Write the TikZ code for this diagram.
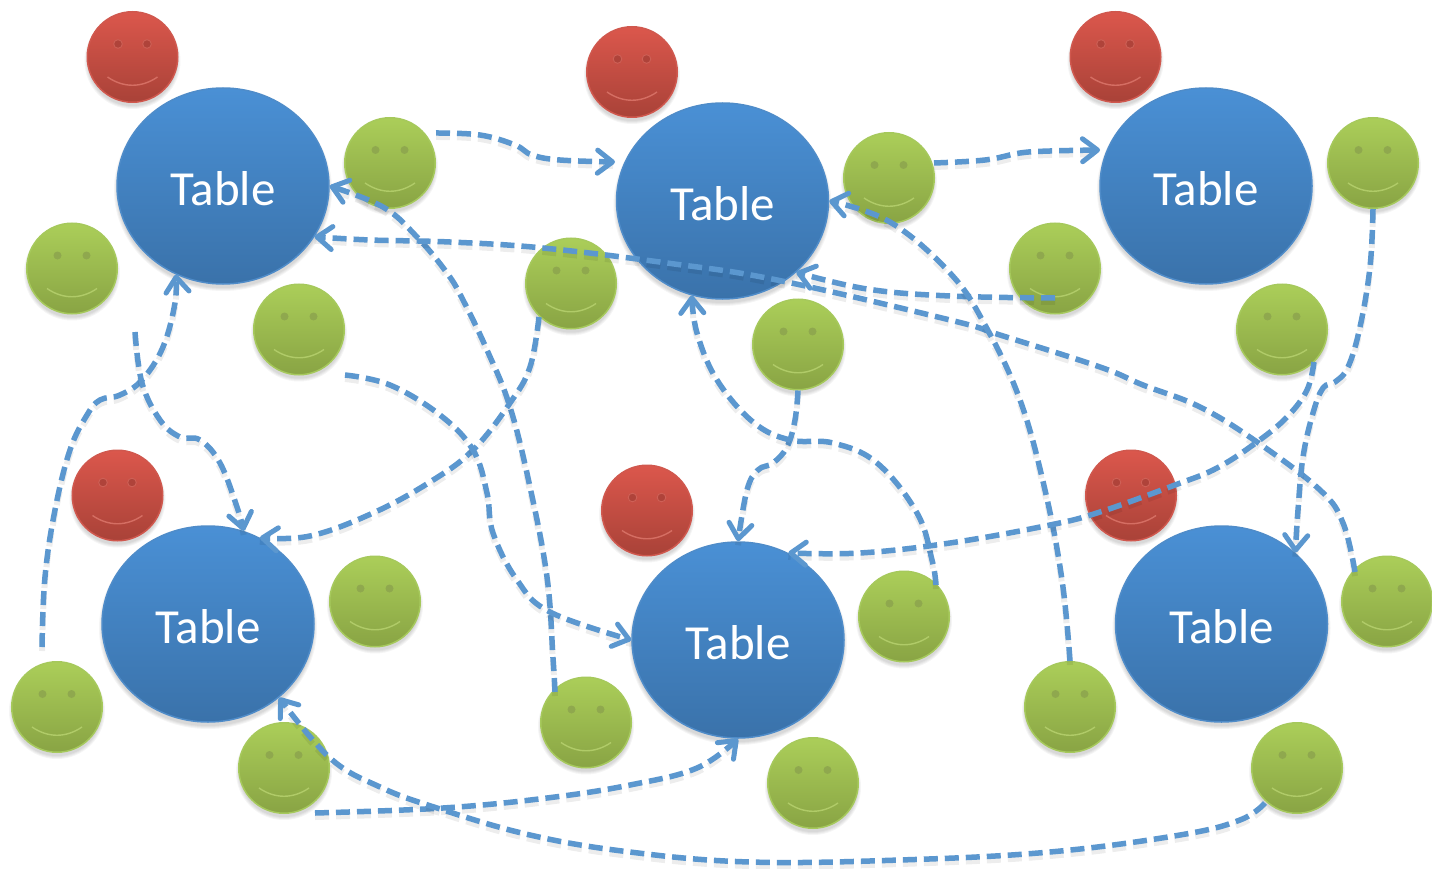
\documentclass[tikz,border=0pt]{standalone}
\usepackage{fontspec}
\setmainfont{Carlito}
\usetikzlibrary{arrows.meta,shapes.geometric}
\definecolor{linkblue}{HTML}{5B97CF}
\definecolor{tabletop}{HTML}{4A90D5}\definecolor{tablebot}{HTML}{3A72AA}\definecolor{tableedge}{HTML}{4F8CC9}
\definecolor{greentop}{HTML}{ABCE59}\definecolor{greenbot}{HTML}{89A444}\definecolor{greenedge}{HTML}{A6C95C}
\definecolor{redtop}{HTML}{DB574C}\definecolor{redbot}{HTML}{A94238}\definecolor{rededge}{HTML}{D0584E}
\definecolor{greeneye}{HTML}{8FA84E}\definecolor{greensmile}{HTML}{B0CB68}
\definecolor{redeye}{HTML}{AF433A}\definecolor{redsmile}{HTML}{D56E63}\definecolor{redring}{HTML}{CE6056}
\tikzset{
  tablenode/.style={ellipse,minimum width=212pt,minimum height=196pt,inner sep=0pt,draw=tableedge,line width=1.5pt,top color=tabletop,bottom color=tablebot,text=white,font=\fontsize{49}{52}\selectfont},
  facegreen/.style={circle,minimum size=90.5pt,inner sep=0pt,draw=greenedge,line width=1.5pt,top color=greentop,bottom color=greenbot},
  facered/.style={circle,minimum size=90.5pt,inner sep=0pt,draw=rededge,line width=1.5pt,top color=redtop,bottom color=redbot},
  link/.style={draw=linkblue,line width=5.5pt,dash pattern=on 14pt off 7pt,-{Straight Barb[length=15pt,width=23pt,line width=5pt,round]}},
  linkshadow/.style={draw=black,draw opacity=.07,line width=6pt,dash pattern=on 14pt off 7pt,transform canvas={yshift=-4pt}},
}
\newcommand{\softshadow}[4]{% x y rx ry
  \foreach \gr in {3,2,1,0}{\fill[black,opacity=.04] (#1,#2+4) ellipse[x radius=#3+\gr,y radius=#4+\gr];}}
\newcommand{\redface}[3]{\softshadow{#2}{#3}{45}{45}
  \node[facered] (#1) at (#2,#3) {};
  \begin{scope}[shift={(#1.center)}]
    \fill[redeye,draw=redring,line width=.9pt] (-14.5,-13) circle[radius=4.3];
    \fill[redeye,draw=redring,line width=.9pt] (14.5,-13) circle[radius=4.3];
    \draw[redsmile,line width=1.4pt] (-25,20) .. controls (-9,31) and (9,31) .. (25,20);
  \end{scope}}
\newcommand{\greenface}[3]{\softshadow{#2}{#3}{45}{45}
  \node[facegreen] (#1) at (#2,#3) {};
  \begin{scope}[shift={(#1.center)}]
    \fill[greeneye] (-14.5,-13) circle[radius=4];
    \fill[greeneye] (14.5,-13) circle[radius=4];
    \draw[greensmile,line width=1.4pt] (-25,20) .. controls (-9,31) and (9,31) .. (25,20);
  \end{scope}}
\newcommand{\tablecircle}[3]{%
  \softshadow{#2}{#3}{106}{98}
  \node[tablenode] (#1) at (#2,#3) {\raisebox{0pt}[39.5pt][0pt]{Table}};}
\newcommand{\linkcurve}[1]{%
  \draw[linkshadow] plot[smooth,tension=.65] coordinates {#1};
  \draw[link] plot[smooth,tension=.65] coordinates {#1};}
\begin{document}
\begin{tikzpicture}[x=1pt,y=-1pt]
\useasboundingbox (0,0) rectangle (1432,869);
\fill[white] (0,0) rectangle (1432,869);
\redface{r1}{132.5}{57}
\redface{r2}{632}{72}
\redface{r3}{1115.5}{57}
\redface{r4}{117.5}{495.5}
\redface{r5}{647}{510.5}
\redface{r6}{1131}{495.5}
\tablecircle{t1}{223}{186}
\tablecircle{t2}{722.5}{201}
\tablecircle{t3}{1206}{186}
\tablecircle{t4}{208}{624}
\tablecircle{t5}{738}{640}
\tablecircle{t6}{1221.5}{624}
\greenface{g1}{390}{163}
\greenface{g2}{72}{268.5}
\greenface{g3}{299}{329.5}
\greenface{g4}{571}{283.5}
\greenface{g5}{889}{178}
\greenface{g6}{798}{344.5}
\greenface{g7}{1055}{268.5}
\greenface{g8}{1373}{163}
\greenface{g9}{1282}{329.5}
\greenface{g10}{375}{601.5}
\greenface{g11}{57}{707}
\greenface{g12}{284}{768}
\greenface{g13}{586}{722.5}
\greenface{g14}{904}{616.5}
\greenface{g15}{813}{783}
\greenface{g16}{1070}{707}
\greenface{g17}{1387}{601.5}
\greenface{g18}{1297}{768}
% free ends
\coordinate (s1) at (436,133);
\coordinate (e1) at (615,162);
\coordinate (s2) at (934,163);
\coordinate (e2) at (1100,150);
\coordinate (s3) at (555,692);
\coordinate (s4) at (1055,298);
\coordinate (s5) at (1355,572);
\coordinate (s7) at (936,585);
\coordinate (s8) at (539,317);
\coordinate (s9) at (345,375);
\coordinate (s10) at (1314,362);
\coordinate (s12) at (42,647);
\coordinate (s13) at (135,332);
\coordinate (s14) at (315,813);
\coordinate (s15) at (1265,803);
% connectors
\linkcurve{(s1) (480,135) (515,145) (532,155) (560,160) (e1)}
\linkcurve{(s2) (985,160) (1020,153) (1050,151) (e2)}
\linkcurve{(s3) (553,658) (547,577) (530,487) (510,407) (487,350) (463,300) (447,273) (417,237) (383,207) (t1.east)}
\linkcurve{(s4) (950,296) (867,289) (t2.-44)}
\linkcurve{(s5) (1343,523) (1320,490) (1257,442) (1200,407) (1143,385) (1100,367) (1000,335) (950,320) (777,280) (667,263) (543,248) (450,242) (370,240) (t1.-29)}
\linkcurve{(g16.north) (1062,580) (1045,490) (1020,400) (985,325) (950,273) (890,222) (t2.east)}
\linkcurve{(g6.south) (795,420) (787,447) (773,463) (758,470) (747,490) (t5.north)}
\linkcurve{(s7) (932,560) (917,513) (877,463) (833,443) (790,440) (753,422) (717,380) (697,333) (t2.252)}
\linkcurve{(s8) (530,367) (510,403) (473,450) (430,482) (373,513) (310,536) (t4.59)}
\linkcurve{(s9) (390,385) (440,415) (473,450) (487,493) (493,533) (517,580) (550,612) (t5.west)}
\linkcurve{(s10) (1307,390) (1287,417) (1257,442) (1217,468) (1175,485) (1100,512) (1050,525) (950,543) (860,553) (t5.60)}
\linkcurve{(g8.south) (1370,267) (1360,327) (1348,367) (1335,382) (1323,388) (1313,413) (1303,457) (1298,510) (t6.44)}
\linkcurve{(s12) (45,577) (55,510) (70,450) (87,415) (100,400) (120,395) (142,380) (163,347) (175,303) (t1.242)}
\linkcurve{(s13) (142,383) (160,420) (180,437) (200,440) (220,463) (237,507) (t4.69)}
\linkcurve{(s14) (443,808) (547,798) (630,785) (697,768) (t5.south)}
\linkcurve{(s15) (1240,820) (1180,835) (1050,852) (900,860) (750,862) (630,852) (530,835) (437,808) (380,787) (330,758) (t4.-46)}
\end{tikzpicture}
\end{document}
